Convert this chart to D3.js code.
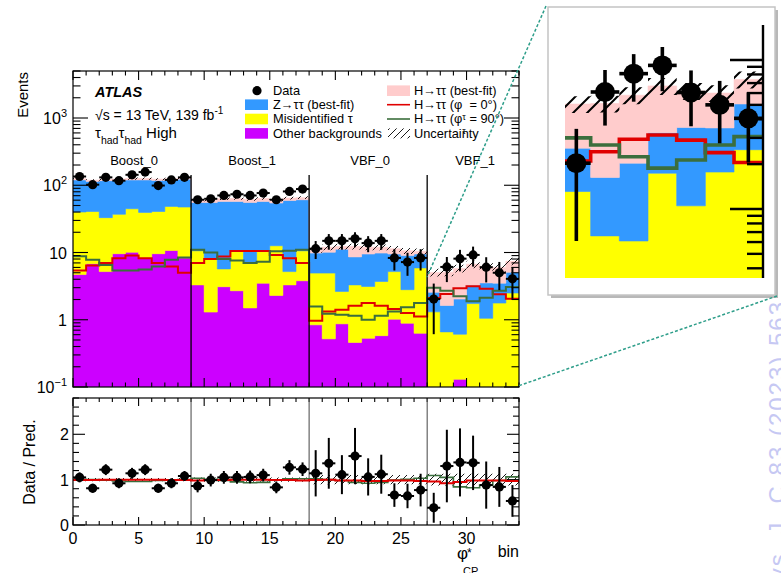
<!DOCTYPE html>
<html><head><meta charset="utf-8">
<script src="https://cdn.jsdelivr.net/npm/d3@7"></script>
<style>body{margin:0;background:#fff;overflow:hidden} svg{font-family:"Liberation Sans",Arial,sans-serif;display:block}</style>
</head><body><svg id="c" width="781" height="573"></svg>
<script>
// ---------------- data ----------------
const categories = ["Boost_0","Boost_1","VBF_0","VBF_1"];
const binsPerCategory = [9, 9, 9, 7];
const otherBkg = [4.7,6.8,5.2,9.6,10.1,8.3,9.6,10.7,8.3,
  3.3,1.3,3.1,2.7,1.5,3.5,2.3,3.3,3.8,
  0.84,0.52,0.87,0.46,0.53,0.58,1.02,0.89,0.63,
  0.02,0.02,0.13,0.02,0.02,0.02,0.02];
const misidTau = [35.3,33.9,27.8,27.4,34.6,31.2,31.1,37.8,39.1,
  7.3,6.7,2.6,7.9,5.5,6.9,10.3,1.9,6.8,
  4.10,4.42,1.77,2.84,2.60,3.13,4.18,1.91,5.27,
  1.29,0.64,0.48,1.72,1.03,1.75,2.48];
const ztautau = [80,73.3,84,81,75.3,80.5,77.3,71.5,75.6,
  44.9,47.5,51.8,46.9,48.5,47.1,41.8,54.2,50.3,
  4.86,5.16,8.56,5.3,6.37,6.09,4.3,6.2,3.6,
  1.25,0.97,1.42,1.51,2.48,1.73,2.57];
const higgsBestFit = [5,5,5,5.5,5.5,5.5,5,5,5,
  4.5,5,5.5,6,6,6,5.5,5,4.5,
  1.2,1.9,1.1,3.7,2.5,2.2,1.9,1.6,0.9,
  2.5,3.47,3.77,3.45,2.67,2.5,2.33];
const higgsCP0 = [5.4,6.4,7.0,8.2,9.0,8.2,7.0,6.2,5.0,
  7.0,8.0,8.7,10.5,10.5,10.5,9.2,8.2,7.0,
  0.97,1.33,1.41,1.61,1.77,1.61,1.44,1.26,1.12,
  2.1,2.42,2.94,3.14,2.9,2.39,2.05];
const higgsCP90 = [8.8,7.8,6.5,5.4,5.4,5.6,6.2,7.8,8.4,
  11,10,8.0,7.6,7.0,7.3,10.4,10.6,11,
  1.58,1.23,1.19,1.15,1.0,1.15,1.33,1.54,1.77,
  3.0,2.69,2.24,1.88,2.13,2.69,3.06];
const dataYield = [135,102,131,117,143,157,99,120,131,
  60.9,62.9,70.5,73.5,70.5,76.6,60.9,80.9,87.8,
  11.4,14.9,14.9,16.0,13.8,14.9,8.3,7.2,8.3,
  2.03,6.1,8.1,9.2,6.05,5.0,4.06];
const dataErr = [11.6,10.1,11.4,10.8,12.0,12.5,9.9,11.0,11.4,
  7.8,7.9,8.4,8.6,8.4,8.8,7.8,9.0,9.4,
  3.4,3.9,3.9,4.0,3.7,3.9,2.9,2.7,2.9,
  1.42,2.47,2.85,3.03,2.46,2.24,2.01];
const relUnc = [0.035,0.035,0.035,0.035,0.035,0.035,0.035,0.035,0.035,
  0.045,0.045,0.045,0.045,0.045,0.045,0.045,0.045,0.045,
  0.10,0.10,0.10,0.10,0.10,0.10,0.10,0.10,0.10,
  0.13,0.13,0.13,0.13,0.13,0.13,0.13];
const ratioData = [1.05,0.81,1.22,0.92,1.14,1.22,0.81,0.92,1.08,
  0.86,0.99,1.05,1.05,1.06,1.10,0.83,1.27,1.23,
  1.14,1.36,1.11,1.52,1.06,1.12,0.66,0.64,0.77,
  0.38,1.30,1.38,1.37,0.88,0.84,0.53];
const ratioErr = [0.11,0.10,0.12,0.11,0.12,0.12,0.10,0.11,0.11,
  0.14,0.14,0.14,0.14,0.14,0.14,0.13,0.16,0.15,
  0.51,0.56,0.43,0.62,0.41,0.43,0.26,0.27,0.36,
  0.33,0.80,0.75,0.60,0.52,0.44,0.35];
const ratioCP0 = [0.99,0.99,1.0,1.0,1.0,1.0,1.0,0.99,0.99,
  0.98,0.99,0.99,1.0,1.0,1.0,0.99,0.99,0.98,
  0.99,1.0,0.98,0.98,0.97,0.97,0.98,0.98,0.97,
  0.96,0.92,0.95,0.98,0.98,0.98,0.97];
const ratioCP90 = [1.01,1.0,0.99,0.97,0.96,0.96,0.98,0.99,1.0,
  1.03,1.01,0.98,0.95,0.93,0.94,0.99,1.02,1.02,
  1.02,1.0,0.98,0.94,0.92,0.94,0.99,1.01,1.03,
  1.09,1.05,0.84,0.82,0.88,0.98,1.06];
const xTickValues = [0,5,10,15,20,25,30];
const yTickValues = [0.1,1,10,100,1000];
const yTickLabels = [["10","−1"],["1",""],["10",""],["10","2"],["10","3"]];
const ratioTickValues = [0,1,2];

// ---------------- setup ----------------
const COL = {other:"#cc00ff", misid:"#ffff00", ztt:"#3399ff", higgs:"#ffcccc", cp0:"#e00000", cp90:"#3b6e3d"};
const n = otherBkg.length;
const svg = d3.select("#c");
const x = d3.scaleLinear().domain([0, 34]).range([73, 519]);
const y = d3.scaleLog().domain([0.1, 5000]).range([387, 71]).clamp(true);
const yr = d3.scaleLinear().domain([0, 2.8]).range([525, 398]);

const defs = svg.append("defs");
function hatchPattern(id, s, w) {
  const p = defs.append("pattern").attr("id", id).attr("patternUnits","userSpaceOnUse").attr("width", s).attr("height", s);
  p.append("path").attr("d", `M${-s/4},${s/4} L${s/4},${-s/4} M0,${s} L${s},0 M${s*0.75},${s*1.25} L${s*1.25},${s*0.75}`)
    .attr("stroke","#000").attr("stroke-width", w);
}
hatchPattern("hatch", 7, 0.9);
hatchPattern("hatchBig", 14, 2);
defs.append("clipPath").attr("id","clipMain").append("rect").attr("x",73).attr("y",71).attr("width",446).attr("height",316);
defs.append("clipPath").attr("id","clipRatio").append("rect").attr("x",73).attr("y",398).attr("width",446).attr("height",127);
defs.append("clipPath").attr("id","clipInset").append("rect").attr("x",565).attr("y",25).attr("width",198).attr("height",253);

// stack
const layerDefs = [[otherBkg, COL.other],[misidTau, COL.misid],[ztautau, COL.ztt],[higgsBestFit, COL.higgs]];
let cum = new Array(n).fill(0);
const layers = layerDefs.map(([vals, color]) => {
  const lo = cum.slice();
  cum = cum.map((c, i) => c + vals[i]);
  return {lo, hi: cum.slice(), color};
});
const total = cum;
const uncHi = total.map((t, i) => t * (1 + relUnc[i]));
const uncLo = total.map((t, i) => t * (1 - relUnc[i]));

function stepPts(vals, xs, ys, i0, i1) {
  const pts = [];
  for (let i = i0; i < i1; i++) pts.push([xs(i), ys(vals[i])], [xs(i + 1), ys(vals[i])]);
  return pts;
}
function bandPath(hi, lo, xs, ys, i0, i1) {
  return d3.line()(stepPts(hi, xs, ys, i0, i1).concat(stepPts(lo, xs, ys, i0, i1).reverse())) + "Z";
}

function drawPanel(g, xs, ys, o) {
  layers.forEach(L => g.append("path").attr("d", bandPath(L.hi, L.lo, xs, ys, o.i0, o.i1))
    .attr("fill", L.color).attr("stroke", L.color).attr("stroke-width", 0.6));
  g.append("path").attr("d", bandPath(uncHi, uncLo, xs, ys, o.i0, o.i1)).attr("fill", `url(#${o.hatch})`);
  [[higgsCP0, COL.cp0],[higgsCP90, COL.cp90]].forEach(([v, c]) =>
    g.append("path").attr("d", d3.line()(stepPts(v, xs, ys, o.i0, o.i1)))
      .attr("fill","none").attr("stroke", c).attr("stroke-width", o.lw));
  if (o.dividers) o.dividers(g);
  for (let i = o.i0; i < o.i1; i++) {
    const cx = xs(i + 0.5), cy = ys(dataYield[i]);
    g.append("line").attr("x1", cx).attr("x2", cx)
      .attr("y1", ys(dataYield[i] + dataErr[i])).attr("y2", ys(Math.max(dataYield[i] - dataErr[i], 1e-3)))
      .attr("stroke","#000").attr("stroke-width", o.ew);
    g.append("line").attr("x1", xs(i)).attr("x2", xs(i + 1)).attr("y1", cy).attr("y2", cy)
      .attr("stroke","#000").attr("stroke-width", o.ew);
    g.append("circle").attr("cx", cx).attr("cy", cy).attr("r", o.r).attr("fill","#000");
  }
}

// category boundaries
const bounds = [];
let acc = 0;
binsPerCategory.forEach(b => { bounds.push(acc); acc += b; });

// ---------------- main panel ----------------
const gMain = svg.append("g").attr("clip-path","url(#clipMain)");
drawPanel(gMain, x, y, {i0: 0, i1: n, hatch: "hatch", lw: 2, ew: 2, r: 4.6,
  dividers: g => bounds.slice(1).forEach(b => g.append("line").attr("x1", x(b)).attr("x2", x(b))
    .attr("y1", 175).attr("y2", 387).attr("stroke","#000").attr("stroke-width", 1.3))});

// frame + ticks main
svg.append("rect").attr("x",73).attr("y",71).attr("width",446).attr("height",316)
  .attr("fill","none").attr("stroke","#000").attr("stroke-width",1.2);
const tk = svg.append("g").attr("stroke","#000").attr("stroke-width",1.1);
yTickValues.forEach(d => {
  [73, 519].forEach((xx, j) => tk.append("line").attr("x1", xx).attr("x2", xx + (j ? -15 : 15)).attr("y1", y(d)).attr("y2", y(d)));
  for (let k = 2; k <= 9; k++) {
    const v = d * k; if (v > 5000) continue;
    [73, 519].forEach((xx, j) => tk.append("line").attr("x1", xx).attr("x2", xx + (j ? -7.5 : 7.5)).attr("y1", y(v)).attr("y2", y(v)));
  }
});
d3.range(0, 35).forEach(v => {
  const L = v % 5 === 0 ? 9 : 4.5;
  tk.append("line").attr("x1", x(v)).attr("x2", x(v)).attr("y1", 387).attr("y2", 387 - L);
  tk.append("line").attr("x1", x(v)).attr("x2", x(v)).attr("y1", 71).attr("y2", 71 + L);
});
yTickValues.forEach((d, i) => {
  const t = svg.append("text").attr("x", 67).attr("y", y(d) + 6).attr("text-anchor","end").attr("font-size",16);
  t.append("tspan").text(yTickLabels[i][0]);
  if (yTickLabels[i][1]) t.append("tspan").attr("font-size",11).attr("dy",-7).text(yTickLabels[i][1]);
});
svg.append("text").attr("transform","translate(28,72) rotate(-90)").attr("text-anchor","end")
  .attr("font-size",15).text("Events");

// category labels
categories.forEach((c, i) => svg.append("text").attr("x", x(bounds[i] + binsPerCategory[i] / 2) + 2).attr("y", 165)
  .attr("text-anchor","middle").attr("font-size",13).text(c));

// ATLAS labels
svg.append("text").attr("x",95).attr("y",97).attr("font-size",14.5).attr("font-weight","bold").attr("font-style","italic").text("ATLAS");
const t1 = svg.append("text").attr("x",95).attr("y",120).attr("font-size",14);
t1.append("tspan").text("√s = 13 TeV, 139 fb");
t1.append("tspan").attr("font-size",10).attr("dy",-6).text("-1");
const t2 = svg.append("text").attr("x",95).attr("y",138).attr("font-size",15);
t2.append("tspan").text("τ");
t2.append("tspan").attr("font-size",10.5).attr("dy",6).text("had");
t2.append("tspan").attr("dy",-6).text("τ");
t2.append("tspan").attr("font-size",10.5).attr("dy",6).text("had");
t2.append("tspan").attr("dy",-6).text(" High");

// legend
const rowsY = [90.7, 104.7, 119, 133.4];
const leftLabels = ["Data","Z→ττ (best-fit)","Misidentified τ","Other backgrounds"];
const leftColors = [null, COL.ztt, COL.misid, COL.other];
leftLabels.forEach((lab, i) => {
  if (i === 0) svg.append("circle").attr("cx",257).attr("cy",rowsY[i]).attr("r",4.6).attr("fill","#000");
  else svg.append("rect").attr("x",245).attr("y",rowsY[i]-5.3).attr("width",23).attr("height",10.6).attr("fill",leftColors[i]);
  svg.append("text").attr("x",273).attr("y",rowsY[i]+4.3).attr("font-size",12.8).text(lab);
});
svg.append("rect").attr("x",387).attr("y",rowsY[0]-5.3).attr("width",23).attr("height",10.6).attr("fill",COL.higgs);
svg.append("line").attr("x1",387).attr("x2",410).attr("y1",rowsY[1]).attr("y2",rowsY[1]).attr("stroke",COL.cp0).attr("stroke-width",1.6);
svg.append("line").attr("x1",387).attr("x2",410).attr("y1",rowsY[2]).attr("y2",rowsY[2]).attr("stroke",COL.cp90).attr("stroke-width",1.6);
svg.append("rect").attr("x",388).attr("y",rowsY[3]-5).attr("width",22).attr("height",10).attr("fill","url(#hatch)");
svg.append("text").attr("x",414).attr("y",rowsY[0]+4.3).attr("font-size",12.8).text("H→ττ (best-fit)");
[["0°", 1], ["90°", 2]].forEach(([ang, r]) => {
  const t = svg.append("text").attr("x",414).attr("y",rowsY[r]+4.3).attr("font-size",12.8);
  t.append("tspan").text("H→ττ (φ");
  t.append("tspan").attr("font-size",9).attr("dy",11).text("τ");
  t.append("tspan").attr("dy",-11).text(" = " + ang + ")");
});
svg.append("text").attr("x",414).attr("y",rowsY[3]+4.3).attr("font-size",12.8).text("Uncertainty");

// ---------------- ratio panel ----------------
const gR = svg.append("g").attr("clip-path","url(#clipRatio)");
gR.append("path").attr("d", bandPath(relUnc.map(u => 1 + u), relUnc.map(u => 1 - u), x, yr, 0, n)).attr("fill","url(#hatch)");
bounds.slice(1).forEach(b => gR.append("line").attr("x1", x(b)).attr("x2", x(b)).attr("y1",398).attr("y2",525)
  .attr("stroke","#555").attr("stroke-width",1.1));
[[ratioCP90, COL.cp90, 1.6],[ratioCP0, COL.cp0, 2]].forEach(([v, c, w]) =>
  gR.append("path").attr("d", d3.line()(stepPts(v, x, yr, 0, n))).attr("fill","none").attr("stroke",c).attr("stroke-width",w));
ratioData.forEach((r, i) => {
  const cx = x(i + 0.5), cy = yr(r);
  gR.append("line").attr("x1",cx).attr("x2",cx).attr("y1",yr(r + ratioErr[i])).attr("y2",yr(r - ratioErr[i])).attr("stroke","#000").attr("stroke-width",2);
  gR.append("line").attr("x1",x(i)).attr("x2",x(i+1)).attr("y1",cy).attr("y2",cy).attr("stroke","#000").attr("stroke-width",2);
  gR.append("circle").attr("cx",cx).attr("cy",cy).attr("r",4.6).attr("fill","#000");
});
svg.append("rect").attr("x",73).attr("y",398).attr("width",446).attr("height",127)
  .attr("fill","none").attr("stroke","#000").attr("stroke-width",1.2);
d3.range(0, 2.81, 0.2).forEach(v => {
  const major = Math.abs(v - Math.round(v)) < 1e-6;
  const L = major ? 12 : 6;
  tk.append("line").attr("x1",73).attr("x2",73 + L).attr("y1",yr(v)).attr("y2",yr(v));
  tk.append("line").attr("x1",519).attr("x2",519 - L).attr("y1",yr(v)).attr("y2",yr(v));
});
d3.range(0, 35).forEach(v => {
  const L = v % 5 === 0 ? 8 : 4;
  tk.append("line").attr("x1", x(v)).attr("x2", x(v)).attr("y1", 525).attr("y2", 525 - L);
  tk.append("line").attr("x1", x(v)).attr("x2", x(v)).attr("y1", 398).attr("y2", 398 + L);
});
ratioTickValues.forEach(v => svg.append("text").attr("x",69).attr("y",yr(v)+6).attr("text-anchor","end").attr("font-size",16).text(v));
xTickValues.forEach(v => svg.append("text").attr("x",x(v)).attr("y",543.5).attr("text-anchor","middle").attr("font-size",16).text(v));
svg.append("text").attr("transform","translate(34.5,462) rotate(-90)").attr("text-anchor","middle").attr("font-size",16).text("Data / Pred.");
svg.append("text").attr("x",519).attr("y",557).attr("text-anchor","end").attr("font-size",16).text("bin");
svg.append("text").attr("x",457).attr("y",559).attr("font-size",17).text("φ");
svg.append("text").attr("x",467).attr("y",557).attr("font-size",12).text("*");
svg.append("text").attr("x",463).attr("y",575).attr("font-size",11).text("CP");

// ---------------- inset ----------------
svg.append("rect").attr("x",551).attr("y",10).attr("width",227).attr("height",288).attr("fill","#b8b8b8");
svg.append("rect").attr("x",548).attr("y",7).attr("width",227).attr("height",288).attr("fill","#fff").attr("stroke","#c4c4c4").attr("stroke-width",1.5);
const xi = d3.scaleLinear().domain([27, 34]).range([562, 762.7]);
const yiBase = d3.scaleLog().domain([1, 10]).range([209, 60]);
const yi = v => yiBase(Math.max(v, 1e-3));
const gI = svg.append("g").attr("clip-path","url(#clipInset)");
drawPanel(gI, xi, yi, {i0: 26, i1: n, hatch: "hatchBig", lw: 3.6, ew: 3.6, r: 10});
const tkI = svg.append("g").attr("stroke","#000").attr("stroke-width",2.4);
tkI.append("line").attr("x1",763).attr("x2",763).attr("y1",25).attr("y2",278);
[0.1, 1, 10].forEach(d => {
  for (let k = 1; k <= 9; k++) {
    const v = d * k, yy = yi(v);
    if (yy < 25 || yy > 278) continue;
    tkI.append("line").attr("x1",763).attr("x2",763 - (k === 1 ? 33 : 16)).attr("y1",yy).attr("y2",yy);
  }
});

// connectors
const conn = svg.append("g").attr("stroke","#2e9e8a").attr("stroke-width",1.5).attr("stroke-dasharray","3,2").attr("fill","none");
conn.append("line").attr("x1",546).attr("y1",6).attr("x2",427).attr("y2",277);
conn.append("line").attr("x1",777).attr("y1",296).attr("x2",518).attr("y2",386);

// watermark
svg.append("text").attr("transform","translate(786,300) rotate(-90)").attr("text-anchor","end")
  .attr("font-size",24).attr("fill","#c6c8f3").attr("letter-spacing",2).text("Eur. Phys. J. C 83 (2023) 563");
</script></body></html>
